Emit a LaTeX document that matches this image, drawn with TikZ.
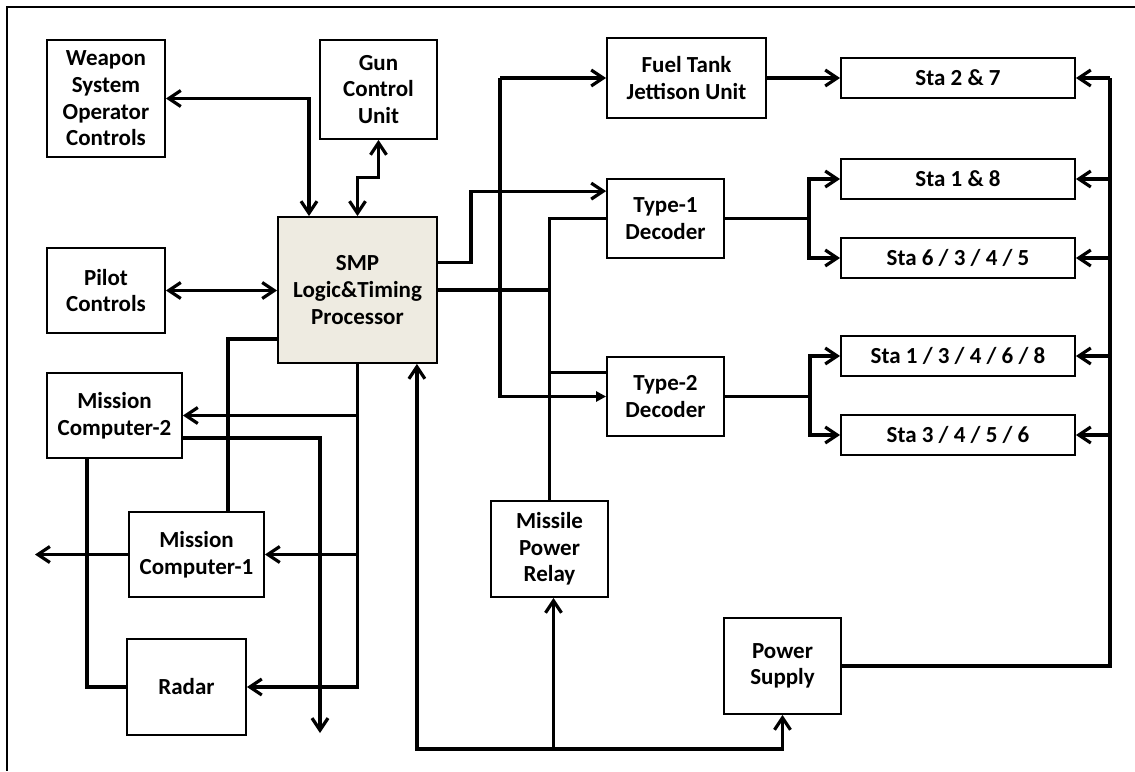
\documentclass[tikz,border=0pt]{standalone}
\usepackage{fontspec}
\setmainfont{Carlito}
\usetikzlibrary{arrows.meta,calc}
\definecolor{smpfill}{HTML}{EEEBE1}

\begin{document}
\begin{tikzpicture}[x=0.5pt,y=-0.5pt,
  blk/.style={draw,line width=0.9pt,inner sep=1pt,align=center,
    font=\fontsize{11.5}{13.3}\selectfont\bfseries},
  wire/.style={line width=1.6pt},
  arr/.style={wire,-{Straight Barb[length=6pt,width=8pt]}},
  both/.style={wire,{Straight Barb[length=6pt,width=8pt]}-{Straight Barb[length=6pt,width=8pt]}},
  fillarr/.style={wire,-{Triangle[length=5pt,width=5pt]}}]
  \useasboundingbox (0,0) rectangle (1135,771);
  % outer frame (only top and left edges show)
  \draw[line width=1pt] (1135,7) -- (7,7) -- (7,771);

  % left column
  \node[blk,minimum width=59pt,minimum height=58.5pt] (wsoc) at (106,98.5) {Weapon\\System\\Operator\\Controls};
  \node[blk,minimum width=59pt,minimum height=42.5pt] (pilot) at (106,290.5) {Pilot\\Controls};
  \node[blk,minimum width=67.5pt,minimum height=42.5pt] (mctwo) at (114.5,415.5) {Mission\\Computer-2};
  \node[blk,minimum width=67.5pt,minimum height=42.5pt] (mcone) at (196.5,554.5) {Mission\\Computer-1};
  \node[blk,minimum width=59.5pt,minimum height=48pt] (radar) at (186.5,687) {Radar};

  % processor and neighbours
  \node[blk,minimum width=58.5pt,minimum height=49.5pt] (gun) at (378.5,89.5) {Gun\\Control\\Unit};
  \node[blk,fill=smpfill,minimum width=79.5pt,minimum height=73pt] (smp) at (357.5,290) {SMP\\Logic\&Timing\\Processor};
  \node[blk,minimum width=58.5pt,minimum height=48pt] (relay) at (549.5,549) {Missile\\Power\\Relay};
  \node[blk,minimum width=58.5pt,minimum height=48pt] (power) at (782.5,666) {Power\\Supply};

  % decoders
  \node[blk,minimum width=79.5pt,minimum height=40pt] (fuel) at (686.5,78) {Fuel Tank\\Jettison Unit};
  \node[blk,minimum width=58.5pt,minimum height=39.5pt] (typeone) at (665.5,218.5) {Type-1\\Decoder};
  \node[blk,minimum width=58.5pt,minimum height=39.5pt] (typetwo) at (665.5,396.5) {Type-2\\Decoder};

  % stations
  \foreach \n/\y/\t in {sta27/78/{Sta 2 \& 7}, sta18/179/{Sta 1 \& 8}, sta6345/258/{Sta 6 / 3 / 4 / 5},
                        sta13468/356/{Sta 1 / 3 / 4 / 6 / 8}, sta3456/435/{Sta 3 / 4 / 5 / 6}}
    \node[blk,minimum width=117pt,minimum height=20pt] (\n) at (958,\y) {\t};

  % controls to processor
  \draw[both] (wsoc.east) -| ($(smp.north)+(-48.5,0)$);
  \draw[both] (smp.north) -- ++(0,-39) -| (gun.south);
  \draw[both] (pilot.east) -- (pilot.east -| smp.west);

  % processor to decoders
  \draw[arr] ($(smp.north east)+(0,46)$) -- ++(33,0) |- ($(typeone.north west)+(0,13)$);
  \coordinate (split) at (500,78);
  \draw[arr] (split) -- (fuel.west);
  \draw[fillarr] (split) |- (typetwo.west);
  \draw[wire] (smp.east) -- (smp.east -| relay.north);
  \draw[wire] (typeone.west) -| (relay.north);
  \draw[wire] ($(typetwo.north west)+(0,16)$) -- ++(-58,0);

  % decoders to stations
  \draw[arr] (fuel.east) -- (sta27.west);
  \draw[arr] (typeone.east) -- ++(84,0) |- (sta18.west);
  \draw[arr] (typeone.east) -- ++(84,0) |- (sta6345.west);
  \draw[arr] (typetwo.east) -- ++(85,0) |- (sta13468.west);
  \draw[arr] (typetwo.east) -- ++(85,0) |- (sta3456.west);

  % power bus
  \draw[wire] (power.east) -| ($(sta27.east)+(34,0)$);
  \foreach \s in {sta27,sta18,sta6345,sta13468,sta3456}
    \draw[arr] ($(\s.east)+(34,0)$) -- (\s.east);
  \draw[both] ($(smp.south east)+(-21,0)$) -- ++(0,385) -| (power.south);
  \draw[arr] ($(relay.south)+(4,151)$) -- ($(relay.south)+(4,0)$);

  % processor to computers and radar
  \draw[arr] (smp.south) |- (radar.east);
  \draw[arr] (smp.south |- mctwo.east) -- (mctwo.east);
  \draw[arr] (smp.south |- mcone.east) -- (mcone.east);
  \draw[wire] ($(smp.south west)+(0,-25)$) -| ($(mcone.north)+(31.5,0)$);
  \coordinate (down) at (320,733);
  \draw[arr] ($(mctwo.east)+(0,22.5)$) -| (down);
  \draw[wire] ($(mctwo.south)+(-27.5,0)$) |- (radar.west);
  \coordinate (out) at (35,555);
  \draw[arr] (mcone.west) -- (mcone.west -| out);
\end{tikzpicture}
\end{document}
